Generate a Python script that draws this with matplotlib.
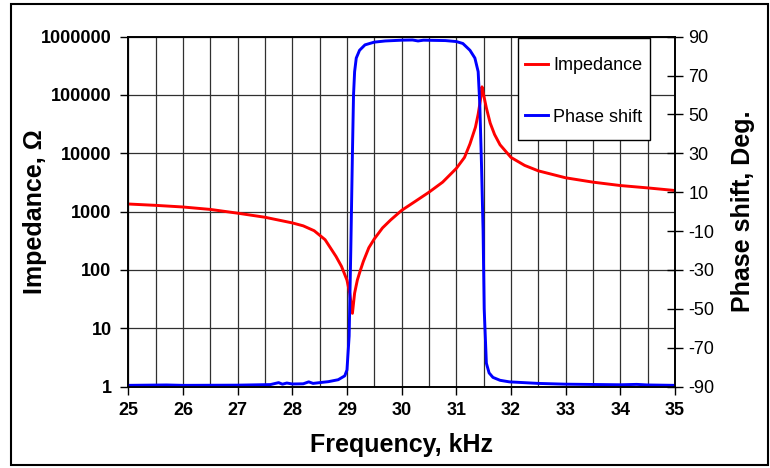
import matplotlib.pyplot as plt
from matplotlib.patches import Rectangle
from matplotlib.ticker import FixedLocator, NullFormatter

plt.rcParams['font.family'] = ['Liberation Sans', 'DejaVu Sans']
plt.rcParams['axes.unicode_minus'] = False

# impedance curve (ohm)
freq_imp = [25.0, 25.5, 26.0, 26.5, 27.0, 27.5, 28.0, 28.2, 28.4, 28.6, 28.8, 28.9,
            29.0, 29.05, 29.1, 29.14, 29.19, 29.24, 29.3, 29.4, 29.5, 29.65, 29.8,
            30.0, 30.25, 30.5, 30.75, 31.0, 31.15, 31.25, 31.35, 31.4, 31.44, 31.47,
            31.5, 31.55, 31.62, 31.7, 31.8, 32.0, 32.25, 32.5, 33.0, 33.5, 34.0,
            34.5, 35.0]
impedance = [1350, 1280, 1200, 1090, 940, 800, 640, 570, 470, 330, 170, 115,
             67, 40, 18, 40, 67, 95, 140, 240, 340, 525, 720,
             1050, 1500, 2150, 3200, 5500, 8500, 14500, 28000, 47000, 80000, 138000,
             100000, 60000, 33000, 21000, 14000, 8500, 6200, 5000, 3800, 3200, 2800,
             2550, 2300]

# phase shift (deg)
freq_phase = [25.0, 25.7, 26.0, 27.0, 27.6, 27.75, 27.82, 27.9, 28.0, 28.2, 28.3,
              28.38, 28.5, 28.66, 28.84, 28.96, 29.0, 29.04, 29.07, 29.1, 29.12,
              29.14, 29.17, 29.23, 29.33, 29.5, 29.7, 30.0, 30.2, 30.3, 30.4, 30.8,
              31.0, 31.12, 31.25, 31.34, 31.4, 31.43, 31.46, 31.49, 31.51, 31.55,
              31.6, 31.67, 31.8, 31.97, 32.5, 33.0, 34.0, 34.3, 34.5, 35.0]
phase = [-89.4, -89.2, -89.4, -89.3, -89.0, -88.0, -88.8, -88.2, -88.7, -88.6, -87.6,
         -88.4, -88.0, -87.5, -86.5, -84.5, -81.5, -64, -20, 30, 60,
         72, 79, 83, 85.8, 87.2, 87.8, 88.2, 88.3, 87.8, 88.2, 88.0,
         87.5, 86.5, 83, 79, 72, 55, 25, -10, -50, -78,
         -83, -85.3, -86.8, -87.6, -88.4, -88.8, -89.1, -88.9, -89.2, -89.4]

imp_ticks = [1, 10, 100, 1000, 10000, 100000, 1000000]
phase_ticks = [-90, -70, -50, -30, -10, 10, 30, 50, 70, 90]
freq_ticks = [25, 26, 27, 28, 29, 30, 31, 32, 33, 34, 35]

fig = plt.figure(figsize=(7.7, 4.68), dpi=100)
ax = fig.add_axes([0.1666, 0.1741, 0.71, 0.7475])

line1, = ax.plot(freq_imp, impedance, color='#ff0000', lw=2.1, label='Impedance')
ax.set_yscale('log')
ax.set_xlim(25, 35)
ax.set_ylim(1, 1000000)
ax.yaxis.set_major_locator(FixedLocator(imp_ticks))
ax.yaxis.set_minor_locator(FixedLocator([]))
ax.set_yticklabels([str(v) for v in imp_ticks], fontweight='bold', fontsize=13)
ax.xaxis.set_major_locator(FixedLocator(freq_ticks))
ax.xaxis.set_minor_locator(FixedLocator([25 + 0.5 * i for i in range(21)]))
ax.xaxis.set_minor_formatter(NullFormatter())
ax.set_xticklabels([str(v) for v in freq_ticks], fontweight='bold', fontsize=13)
ax.tick_params(axis='x', which='major', direction='out', length=6, width=1, pad=5)
ax.tick_params(axis='x', which='minor', length=0)
ax.tick_params(axis='y', direction='out', length=6, width=1, pad=6)
ax.grid(True, which='both', axis='x', color='#303030', lw=0.9)
ax.grid(True, which='major', axis='y', color='#303030', lw=0.9)
ax.set_xlabel('Frequency, kHz', fontweight='bold', fontsize=18)
ax.set_ylabel('Impedance, Ω', fontweight='bold', fontsize=18)
ax.xaxis.set_label_coords(0.5, -0.133)
ax.yaxis.set_label_coords(-0.149, 0.5)

ax2 = ax.twinx()
line2, = ax2.plot(freq_phase, phase, color='#0000ff', lw=2.1, label='Phase shift')
ax2.set_ylim(-90, 90)
ax2.set_yticks(phase_ticks)
ax2.set_yticklabels([str(v) for v in phase_ticks], fontsize=13)
ax2.tick_params(axis='y', direction='inout', length=11, width=1, pad=4)
ax2.set_ylabel('Phase shift, Deg.', fontweight='bold', fontsize=18)
ax2.yaxis.set_label_coords(1.1024, 0.5)

for a in (ax, ax2):
    for s in a.spines.values():
        s.set_linewidth(1.2)
        s.set_color('black')

# legend box drawn separately so it can be taller than the entries need
ax2.add_patch(Rectangle((0.7128, 0.7047), 0.2415, 0.2916, transform=ax2.transAxes,
                        facecolor='white', edgecolor='black', lw=1.0, zorder=4))
leg = ax2.legend(handles=[line1, line2], loc='center', bbox_to_anchor=(0.8336, 0.843),
                 fontsize=13, frameon=False, handlelength=1.25, handletextpad=0.3,
                 labelspacing=1.9, borderpad=0.0, borderaxespad=0.0)
leg.set_zorder(5)

# frame around the whole chart
fig.patches.append(Rectangle((0.014, 0.006), 0.983, 0.985, transform=fig.transFigure,
                             fill=False, edgecolor='black', lw=1.5))

fig.savefig('out.png', dpi=100)
